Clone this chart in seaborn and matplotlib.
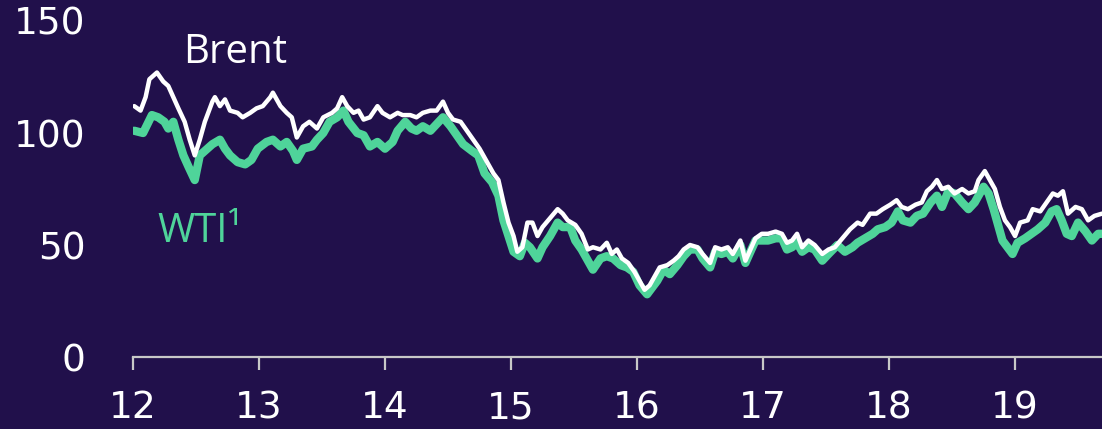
import numpy as np
import pandas as pd
import seaborn as sns
import matplotlib.pyplot as plt

# Brent (decimal year, $/bbl)
brent_year = [12.01, 12.06, 12.10, 12.13, 12.19, 12.24, 12.28, 12.32, 12.36, 12.41, 12.45, 12.49,
              12.53, 12.57, 12.63, 12.65, 12.69, 12.73, 12.77, 12.83, 12.87, 12.93, 12.98, 13.03,
              13.09, 13.11, 13.17, 13.22, 13.26, 13.30, 13.35, 13.40, 13.46, 13.51, 13.58, 13.62,
              13.66, 13.70, 13.75, 13.79, 13.83, 13.88, 13.94, 13.98, 14.04, 14.10, 14.14, 14.20,
              14.25, 14.30, 14.36, 14.41, 14.46, 14.50, 14.54, 14.60, 14.65, 14.70, 14.75, 14.81,
              14.86, 14.90, 14.94, 14.98, 15.02, 15.05, 15.09, 15.13, 15.17, 15.21, 15.25, 15.31,
              15.37, 15.41, 15.45, 15.51, 15.56, 15.61, 15.65, 15.71, 15.76, 15.80, 15.84, 15.88,
              15.93, 15.98, 16.02, 16.06, 16.10, 16.14, 16.18, 16.24, 16.29, 16.33, 16.37, 16.42,
              16.48, 16.52, 16.58, 16.62, 16.67, 16.72, 16.76, 16.82, 16.86, 16.90, 16.94, 16.99,
              17.04, 17.10, 17.15, 17.19, 17.23, 17.27, 17.31, 17.36, 17.41, 17.47, 17.52, 17.57,
              17.63, 17.69, 17.75, 17.79, 17.85, 17.90, 17.95, 18.01, 18.06, 18.10, 18.15, 18.21,
              18.26, 18.30, 18.34, 18.38, 18.42, 18.47, 18.52, 18.58, 18.63, 18.68, 18.71, 18.76,
              18.80, 18.84, 18.88, 18.92, 18.96, 19.00, 19.04, 19.10, 19.14, 19.20, 19.25, 19.30,
              19.34, 19.38, 19.42, 19.48, 19.53, 19.58, 19.63, 19.69]
brent_price = [112, 110, 116, 124, 127, 123, 121, 116, 111, 105, 97, 90,
               97, 105, 114, 116, 112, 115, 110, 109, 107, 109, 111, 112,
               116, 118, 112, 109, 107, 98, 103, 105, 102, 107, 109, 111,
               116, 112, 109, 110, 106, 107, 112, 109, 107, 109, 108, 108,
               107, 109, 110, 110, 114, 109, 106, 105, 101, 97, 93, 87,
               82, 79, 69, 60, 54, 47, 49, 60, 60, 54, 58, 62,
               66, 64, 61, 59, 55, 48, 49, 48, 51, 46, 48, 44,
               42, 38, 34, 30, 32, 36, 40, 41, 43, 45, 48, 50,
               49, 46, 42, 49, 48, 49, 46, 52, 43, 48, 53, 55,
               55, 56, 55, 51, 52, 55, 49, 52, 50, 46, 48, 49,
               53, 57, 60, 59, 64, 64, 66, 68, 70, 67, 66, 68,
               69, 74, 76, 79, 75, 76, 73, 75, 73, 74, 79, 83,
               79, 75, 67, 61, 58, 54, 60, 61, 66, 65, 69, 73,
               72, 74, 64, 67, 66, 61, 63, 64]

# WTI
wti_year = [12.01, 12.08, 12.15, 12.20, 12.25, 12.28, 12.32, 12.36, 12.40, 12.44, 12.49, 12.53,
            12.59, 12.63, 12.69, 12.73, 12.77, 12.83, 12.89, 12.94, 12.99, 13.06, 13.11, 13.17,
            13.22, 13.27, 13.30, 13.35, 13.42, 13.46, 13.51, 13.56, 13.62, 13.67, 13.71, 13.78,
            13.83, 13.88, 13.94, 14.00, 14.06, 14.10, 14.16, 14.21, 14.25, 14.30, 14.36, 14.41,
            14.46, 14.52, 14.57, 14.62, 14.69, 14.74, 14.79, 14.85, 14.90, 14.94, 14.98, 15.02,
            15.07, 15.11, 15.15, 15.21, 15.25, 15.31, 15.37, 15.41, 15.47, 15.51, 15.56, 15.61,
            15.65, 15.71, 15.76, 15.81, 15.87, 15.92, 15.97, 16.02, 16.08, 16.12, 16.16, 16.21,
            16.26, 16.32, 16.37, 16.42, 16.48, 16.52, 16.58, 16.62, 16.67, 16.72, 16.76, 16.82,
            16.86, 16.90, 16.94, 16.99, 17.04, 17.10, 17.15, 17.19, 17.23, 17.27, 17.31, 17.36,
            17.41, 17.47, 17.52, 17.59, 17.65, 17.71, 17.75, 17.81, 17.87, 17.91, 17.97, 18.02,
            18.07, 18.11, 18.17, 18.22, 18.27, 18.33, 18.38, 18.42, 18.47, 18.52, 18.58, 18.63,
            18.68, 18.75, 18.79, 18.83, 18.87, 18.90, 18.94, 18.98, 19.02, 19.08, 19.13, 19.18,
            19.24, 19.29, 19.33, 19.37, 19.41, 19.45, 19.50, 19.56, 19.61, 19.66, 19.69]
wti_price = [101, 100, 108, 107, 105, 102, 105, 97, 90, 85, 79, 90,
             93, 95, 97, 93, 90, 87, 86, 88, 93, 96, 97, 94,
             96, 92, 88, 93, 94, 97, 100, 105, 107, 110, 105, 100,
             99, 94, 96, 93, 96, 101, 105, 102, 101, 103, 101, 104,
             107, 103, 99, 95, 92, 90, 82, 78, 72, 61, 54, 47,
             45, 51, 49, 44, 49, 54, 60, 58, 58, 52, 48, 43,
             39, 44, 45, 44, 41, 40, 38, 32, 28, 31, 34, 39,
             37, 41, 45, 48, 48, 44, 40, 47, 46, 47, 44, 50,
             42, 47, 52, 52, 52, 53, 53, 48, 49, 51, 47, 49,
             48, 43, 46, 50, 47, 49, 51, 53, 55, 57, 58, 60,
             65, 61, 60, 63, 64, 69, 72, 67, 74, 73, 69, 66,
             69, 76, 73, 66, 58, 52, 49, 46, 51, 53, 55, 57,
             60, 65, 66, 61, 55, 54, 60, 56, 52, 55, 55]

y_ticks = [0, 50, 100, 150]
x_ticks = [12, 13, 14, 15, 16, 17, 18, 19]

bg = '#21104b'
green = '#4fd49a'

sns.set_style('white', {'axes.facecolor': bg, 'figure.facecolor': bg})

brent = pd.DataFrame({'year': brent_year, 'price': brent_price})
wti = pd.DataFrame({'year': wti_year, 'price': wti_price})

fig = plt.figure(figsize=(11.02, 4.29), dpi=100)
ax = fig.add_axes([133 / 1102, 1 - 357 / 429, 969 / 1102, 336 / 429])

sns.lineplot(data=wti, x='year', y='price', ax=ax, color=green, linewidth=6, zorder=2)
sns.lineplot(data=brent, x='year', y='price', ax=ax, color='white', linewidth=3.2, zorder=3)

ax.set_xlim(12, 19.69)
ax.set_ylim(0, 150)
ax.set_xticks(x_ticks)
ax.set_xticklabels([str(t) for t in x_ticks])
ax.set_yticks(y_ticks)
ax.set_yticklabels([str(t) for t in y_ticks])
ax.set_xlabel('')
ax.set_ylabel('')

for s in ['top', 'right', 'left']:
    ax.spines[s].set_visible(False)
ax.spines['bottom'].set_color('#c8c8c8')
ax.spines['bottom'].set_linewidth(1.6)

ax.tick_params(axis='x', colors='#c8c8c8', length=9, width=1.6, pad=15,
               labelsize=27, labelcolor='white', bottom=True)
ax.tick_params(axis='y', length=0, pad=34, labelsize=27, labelcolor='white')

ax.text(12.81, 136, 'Brent', color='white', fontsize=29, family=['Open Sans', 'DejaVu Sans'],
        ha='center', va='center')
ax.text(12.53, 56, 'WTI¹', color=green, fontsize=29, family=['Open Sans', 'DejaVu Sans'],
        ha='center', va='center')

fig.savefig('out.png', dpi=100, facecolor=bg)
